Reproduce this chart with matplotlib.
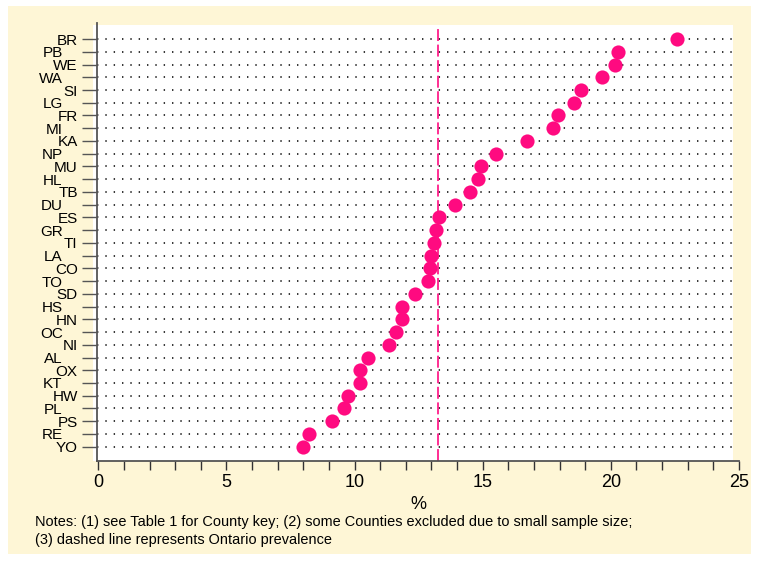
import matplotlib
matplotlib.use("Agg")
import matplotlib.pyplot as plt
from matplotlib.patches import Rectangle
from matplotlib.ticker import MultipleLocator, FixedLocator

plt.rcParams['font.family'] = ['Liberation Sans', 'DejaVu Sans']
plt.rcParams['lines.scale_dashes'] = False

counties = ["BR", "PB", "WE", "WA", "SI", "LG", "FR", "MI", "KA", "NP", "MU",
            "HL", "TB", "DU", "ES", "GR", "TI", "LA", "CO", "TO", "SD", "HS",
            "HN", "OC", "NI", "AL", "OX", "KT", "HW", "PL", "PS", "RE", "YO"]
prevalence = [22.57, 20.28, 20.17, 19.66, 18.85, 18.55, 17.95, 17.73, 16.73,
              15.52, 14.92, 14.81, 14.51, 13.91, 13.29, 13.19, 13.09, 13.00,
              12.95, 12.85, 12.36, 11.86, 11.84, 11.63, 11.33, 10.53, 10.22,
              10.22, 9.73, 9.60, 9.11, 8.21, 8.00]
ontario = 13.27
x_ticks = [0, 5, 10, 15, 20, 25]
notes = ["Notes: (1) see Table 1 for County key; (2) some Counties excluded due to small sample size;",
         "(3) dashed line represents Ontario prevalence"]

W, H = 757, 561
fig = plt.figure(figsize=(W / 100, H / 100), dpi=100)
fig.patch.set_facecolor('white')

cream = '#FEF6D6'
pink = '#FF0A80'

def fx(px):
    return px / W

def fy(py):
    return 1 - py / H

# cream outer region
fig.patches.append(Rectangle((fx(8), fy(554)), fx(751) - fx(8), fy(6) - fy(554),
                             transform=fig.transFigure, facecolor=cream,
                             edgecolor='none', zorder=-10))
# white plot region
fig.patches.append(Rectangle((fx(92.7), fy(460.7)), fx(733) - fx(92.7), fy(25) - fy(460.7),
                             transform=fig.transFigure, facecolor='white',
                             edgecolor='none', zorder=-9))

ax = fig.add_axes([fx(97), fy(460.7), fx(739) - fx(97), fy(23) - fy(460.7)])
ax.set_facecolor('none')

n = len(counties)
ypos = [n - 1 - i for i in range(n)]

for y in ypos:
    ax.axhline(y, xmin=0, xmax=(733 - 97) / (739 - 97), color='black',
               lw=1.1, linestyle=(0, (1.0, 5.0)), zorder=1)

ax.axvline(ontario, ymin=0, ymax=(460.7 - 26) / (460.7 - 23), color=pink,
           lw=1.2, linestyle=(0, (8.6, 2.6)), zorder=2)

ax.plot(prevalence, ypos, 'o', color=pink, markersize=10.2,
        markeredgewidth=0, zorder=3, clip_on=False)

ax.set_xlim(-0.05, 25)
ax.set_ylim(-1.10, 33.26)

ax.xaxis.set_major_locator(FixedLocator(x_ticks))
ax.xaxis.set_minor_locator(MultipleLocator(1))
ax.tick_params(axis='x', which='both', length=6.3, width=1.0, color='#333333',
               direction='out', labelsize=13, pad=3)
ax.set_xlabel('%', fontsize=13, labelpad=4)

ax.yaxis.set_major_locator(FixedLocator(ypos))
ax.set_yticklabels(counties)
ax.tick_params(axis='y', which='major', length=10.8, width=1.0, color='#555555',
               direction='out', labelsize=11, pad=3.1)
for i, t in enumerate(ax.yaxis.get_major_ticks()):
    # ticks are ordered as ypos (top first)
    if i % 2 == 1:
        t.set_pad(13.9)

for s in ['top', 'right']:
    ax.spines[s].set_visible(False)
for s in ['left', 'bottom']:
    ax.spines[s].set_color('#555555')
    ax.spines[s].set_linewidth(1.3)

fig.text(fx(35), fy(522), notes[0], fontsize=10.45, va='center', ha='left')
fig.text(fx(35), fy(540), notes[1], fontsize=10.45, va='center', ha='left')

fig.savefig('out.png', dpi=100)
